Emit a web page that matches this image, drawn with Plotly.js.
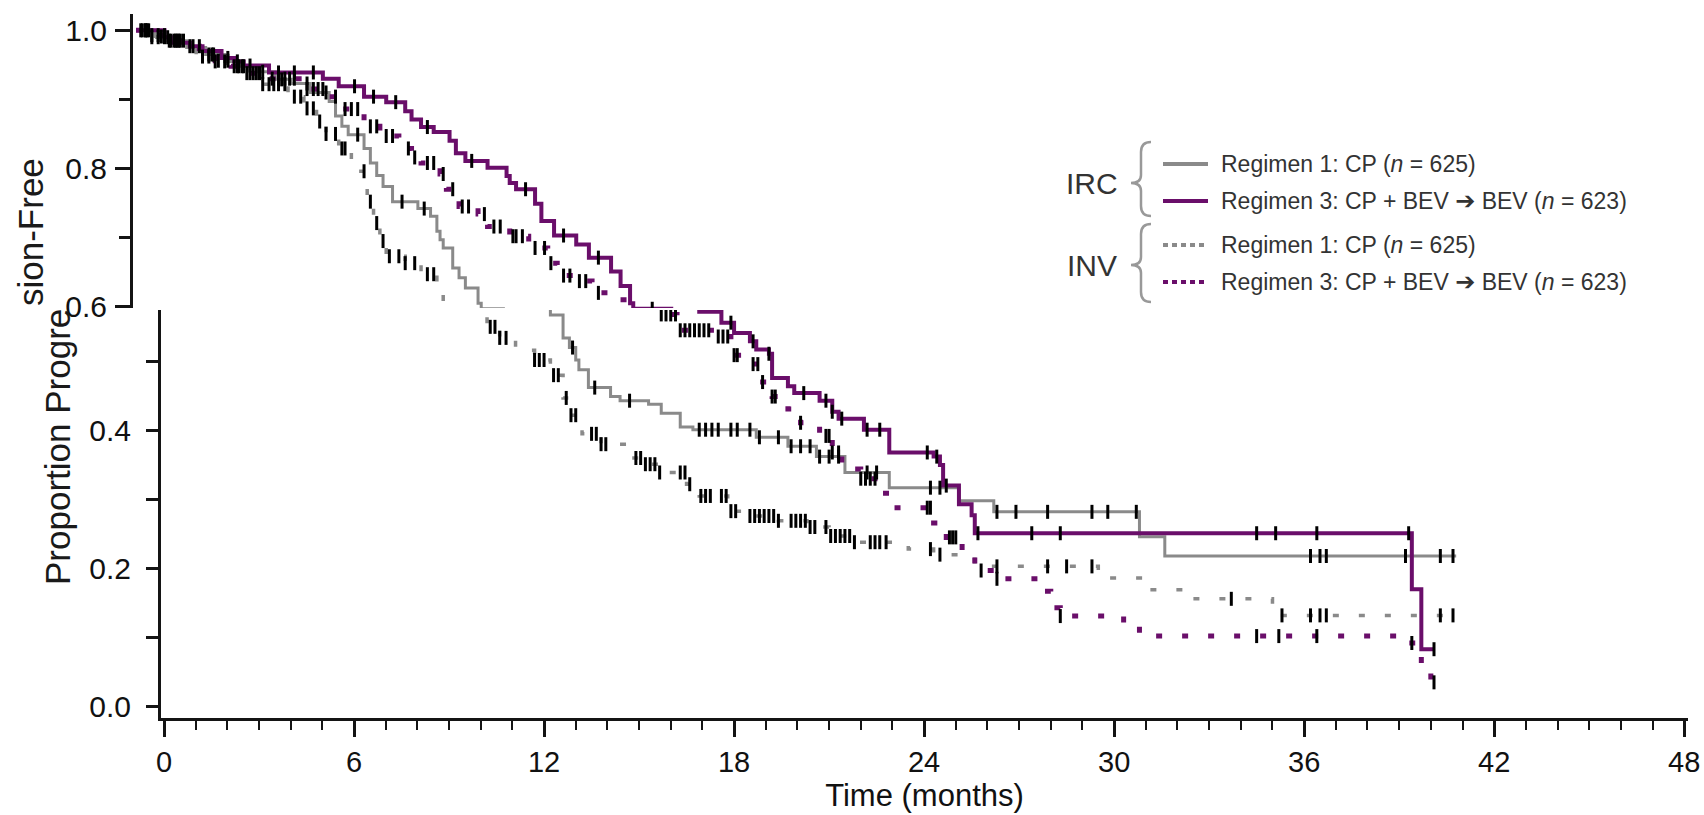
<!DOCTYPE html>
<html>
<head>
<meta charset="utf-8">
<script src="https://cdn.plot.ly/plotly-3.0.1.min.js"></script>
<style>html,body{margin:0;padding:0;background:#fff;}#chart{width:1704px;height:815px;}</style>
</head>
<body>
<div id="chart"></div>
<script>
// ---------------- data ----------------
const xTickLabels = ['0','6','12','18','24','30','36','42','48'];

// IRC, Regimen 1: CP (n = 625)  - grey solid
const ircCpT = [0, 0.6, 1.0, 1.6, 2.2, 2.8, 3.3, 3.8, 4.4, 4.9, 5.5, 6.1, 6.3, 6.5, 6.7, 7.2, 7.4, 7.6, 7.8, 8.1, 8.9, 9.3, 9.5, 9.6, 9.7, 10.0, 10.2, 10.4, 10.8, 10.9, 11.6, 12.2, 12.6, 12.8, 13.0, 13.1, 13.4, 14.1, 14.4, 15.3, 15.7, 16.3, 16.7, 18.7, 19.7, 20.6, 21.5, 22.9, 25.1, 26.2, 30.8, 31.6, 40.8];
const ircCpS = [1.0, 0.991, 0.985, 0.975, 0.965, 0.955, 0.948, 0.940, 0.929, 0.923, 0.910, 0.897, 0.876, 0.861, 0.849, 0.829, 0.808, 0.790, 0.774, 0.752, 0.742, 0.731, 0.709, 0.697, 0.685, 0.656, 0.642, 0.627, 0.605, 0.597, 0.585, 0.567, 0.534, 0.520, 0.502, 0.488, 0.462, 0.449, 0.443, 0.438, 0.425, 0.405, 0.401, 0.390, 0.377, 0.362, 0.339, 0.317, 0.298, 0.282, 0.246, 0.218, 0.218];
const ircCpCens = [0.3, 0.8, 1.3, 2.4, 3.2, 4.0, 4.6, 5.4, 6.0, 7.0, 8.4, 9.1, 12.9, 13.6, 14.7, 16.9, 17.1, 17.3, 17.5, 17.9, 18.1, 18.5, 18.8, 19.4, 19.8, 20.1, 20.4, 20.7, 21.0, 21.3, 22.2, 22.5, 24.2, 24.5, 26.3, 26.9, 27.9, 29.3, 29.8, 30.7, 36.2, 36.5, 36.7, 39.2, 40.3, 40.7];

// IRC, Regimen 3: CP + BEV -> BEV (n = 623)  - purple solid
const ircR3T = [0, 0.9, 1.1, 1.7, 2.1, 2.7, 3.1, 3.4, 4.2, 5.9, 6.4, 7.2, 7.9, 8.5, 8.7, 9.0, 9.4, 9.9, 10.1, 10.4, 11.1, 11.7, 11.8, 12.0, 12.6, 12.8, 13.2, 13.9, 14.3, 15.0, 15.3, 15.6, 15.7, 16.9, 17.6, 18.0, 18.5, 18.7, 19.1, 19.2, 19.7, 19.9, 20.7, 21.1, 21.3, 22.1, 22.9, 24.3, 24.5, 24.6, 25.1, 25.5, 25.6, 39.4, 39.7, 40.1];
const ircR3S = [1.0, 0.990, 0.982, 0.977, 0.970, 0.960, 0.955, 0.949, 0.939, 0.930, 0.919, 0.904, 0.896, 0.883, 0.871, 0.860, 0.853, 0.840, 0.822, 0.811, 0.801, 0.789, 0.779, 0.770, 0.749, 0.724, 0.703, 0.690, 0.671, 0.651, 0.630, 0.605, 0.597, 0.572, 0.556, 0.541, 0.529, 0.517, 0.511, 0.476, 0.464, 0.454, 0.443, 0.427, 0.417, 0.401, 0.368, 0.362, 0.350, 0.320, 0.293, 0.277, 0.251, 0.170, 0.083, 0.083];
const ircR3Cens = [0.4, 1.0, 2.0, 2.9, 3.6, 4.5, 5.0, 5.6, 6.9, 7.5, 8.2, 9.2, 10.6, 12.3, 13.5, 14.6, 16.3, 17.9, 18.6, 19.1, 20.2, 20.9, 21.1, 21.4, 22.2, 22.6, 24.1, 24.4, 24.7, 25.7, 27.4, 28.3, 34.5, 35.1, 36.4, 39.3, 40.1];

// INV, Regimen 1: CP (n = 625)  - grey dotted
const invCpT = [0, 0.5, 1.0, 1.5, 1.9, 2.5, 3.0, 3.5, 3.9, 4.8, 5.3, 5.7, 6.0, 6.4, 6.8, 7.1, 7.3, 7.5, 7.7, 7.9, 8.5, 9.0, 9.5, 9.7, 10.0, 10.2, 10.6, 11.1, 11.7, 12.2, 12.6, 12.8, 13.2, 13.8, 14.6, 15.1, 15.6, 16.5, 16.9, 17.8, 18.3, 19.4, 20.3, 21.0, 21.7, 23.5, 24.3, 25.6, 29.5, 31.0, 32.5, 35.0, 40.8];
const invCpS = [1.0, 0.99, 0.985, 0.977, 0.962, 0.955, 0.948, 0.938, 0.922, 0.904, 0.887, 0.868, 0.850, 0.829, 0.812, 0.796, 0.752, 0.721, 0.695, 0.673, 0.663, 0.647, 0.620, 0.598, 0.567, 0.550, 0.534, 0.516, 0.502, 0.480, 0.447, 0.422, 0.395, 0.380, 0.360, 0.351, 0.339, 0.322, 0.305, 0.283, 0.276, 0.269, 0.260, 0.247, 0.238, 0.228, 0.220, 0.203, 0.186, 0.169, 0.156, 0.132, 0.132];
const invCpCens = [0.2, 0.35, 0.5, 0.7, 0.9, 1.1, 1.25, 1.4, 1.7, 2.1, 2.3, 2.5, 2.8, 3.1, 3.25, 3.4, 3.6, 3.8, 4.0, 4.2, 4.35, 4.5, 4.7, 5.0, 5.2, 5.4, 5.6, 5.8, 6.0, 6.3, 6.5, 6.6, 7.2, 7.4, 7.6, 7.8, 8.0, 8.3, 8.5, 8.8, 9.2, 9.4,
  10.3, 10.45, 10.6, 10.8, 11.7, 11.85, 12.0, 12.3, 12.45, 12.7, 12.85, 13.0, 13.5, 13.65, 13.8, 13.95, 14.9, 15.05, 15.2, 15.35, 15.5, 15.65,
  16.3, 16.45, 16.6, 16.95, 17.1, 17.25, 17.6, 17.75, 17.9, 18.05, 18.5, 18.65, 18.8, 18.95, 19.1, 19.25, 19.4, 19.8, 19.95, 20.1, 20.25, 20.4, 20.55,
  20.9, 21.05, 21.2, 21.35, 21.5, 21.65, 21.8, 22.3, 22.45, 22.6, 22.8, 24.2, 24.5, 26.3, 27.9, 28.5, 29.3, 33.7, 35.3, 36.2, 36.5, 36.7, 40.3, 40.7];

// INV, Regimen 3: CP + BEV -> BEV (n = 623)  - purple dotted
const invR3T = [0, 0.5, 1.0, 1.6, 2.0, 2.5, 3.0, 3.5, 4.1, 5.3, 6.1, 6.5, 7.2, 7.7, 8.3, 8.5, 8.7, 9.0, 9.6, 9.8, 10.2, 10.8, 11.1, 11.8, 12.4, 13.0, 13.3, 13.8, 14.4, 14.9, 15.5, 15.6, 16.2, 17.4, 17.9, 18.4, 18.8, 19.2, 19.7, 20.1, 20.7, 21.1, 21.4, 22.0, 22.6, 23.0, 24.3, 24.7, 25.2, 25.6, 26.3, 27.6, 28.0, 28.3, 30.3, 30.8, 39.4, 39.7, 40.0, 40.1];
const invR3S = [1.0, 0.993, 0.985, 0.977, 0.965, 0.956, 0.948, 0.938, 0.930, 0.915, 0.904, 0.886, 0.861, 0.847, 0.842, 0.829, 0.816, 0.808, 0.792, 0.770, 0.745, 0.734, 0.716, 0.702, 0.685, 0.663, 0.645, 0.637, 0.620, 0.610, 0.595, 0.568, 0.545, 0.536, 0.509, 0.496, 0.470, 0.449, 0.431, 0.411, 0.392, 0.368, 0.344, 0.330, 0.309, 0.288, 0.266, 0.245, 0.223, 0.197, 0.185, 0.167, 0.143, 0.131, 0.121, 0.102, 0.092, 0.062, 0.035, 0.035];
const invR3Cens = [0.15, 0.3, 0.5, 0.7, 0.9, 1.05, 1.2, 1.35, 1.5, 1.8, 2.3, 2.45, 2.6, 2.9, 3.2, 3.35, 3.5, 3.7, 3.9, 4.3, 4.5, 4.7, 4.85, 5.0, 5.4, 5.6, 5.75, 5.9, 6.3, 6.6, 6.8, 7.0, 7.4, 7.6, 7.9, 8.1, 8.6, 8.8, 9.2, 9.4, 9.7, 10.0, 10.3, 10.5, 11.0, 11.3, 11.5, 11.9, 12.0, 12.2, 12.6, 12.9, 13.1, 13.5, 13.7, 14.0, 14.2, 14.6,
  15.7, 15.85, 16.0, 16.15, 16.3, 16.45, 16.6, 16.75, 16.9, 17.05, 17.2, 17.5, 17.65, 17.8, 18.0, 18.1, 18.6, 18.75, 18.9, 19.2, 19.3, 20.1, 20.9, 21.0, 21.1, 21.3,
  22.0, 22.15, 22.3, 22.45, 24.1, 24.2, 24.8, 24.9, 25.0, 25.8, 26.3, 28.3, 34.5, 35.2, 36.4, 39.4, 40.1];

const ARROW = '<span style="font-family:DejaVu Sans;font-size:24px;font-weight:bold">\u2794</span>';
const legendLabels = [
  'Regimen 1: CP (<i>n</i> = 625)',
  'Regimen 3: CP + BEV ' + ARROW + ' BEV (<i>n</i> = 623)',
  'Regimen 1: CP (<i>n</i> = 625)',
  'Regimen 3: CP + BEV ' + ARROW + ' BEV (<i>n</i> = 623)'
];
const groupLabels = ['IRC', 'INV'];
const yTitle = 'Proportion Progression-Free';
const xTitle = 'Time (months)';

// ---------------- styling ----------------
const FONT = 'Liberation Sans, Arial, sans-serif';
const GREY = '#8a8a8a', PURPLE = '#6a0e6a', INK = '#141414';
const W = 1704, H = 815, ML = 133, MR = 16, MT = 14, MB = 97;
const PW = W - ML - MR, PH = H - MT - MB;
const px = X => (X - ML) / PW;
const py = Y => (H - MB - Y) / PH;

function stepValue(T, S, c) {
  let v = S[0];
  for (let i = 0; i < T.length; i++) { if (T[i] <= c) v = S[i]; else break; }
  return v;
}

const curves = [
  {T: ircCpT, S: ircCpS, C: ircCpCens, color: GREY, width: 3, dash: 'solid'},
  {T: ircR3T, S: ircR3S, C: ircR3Cens, color: PURPLE, width: 4, dash: 'solid'},
  {T: invCpT, S: invCpS, C: invCpCens, color: GREY, width: 3.5, dash: '6px,20px'},
  {T: invR3T, S: invR3S, C: invR3Cens, color: PURPLE, width: 5, dash: '6px,20px'}
];

const traces = [];
[['x', 'y'], ['x2', 'y2']].forEach(([xa, ya]) => {
  curves.forEach(c => {
    traces.push({type: 'scatter', mode: 'lines', x: c.T, y: c.S, xaxis: xa, yaxis: ya,
      line: {shape: 'hv', color: c.color, width: c.width, dash: c.dash}, hoverinfo: 'skip', showlegend: false});
  });
  curves.forEach(c => {
    traces.push({type: 'scatter', mode: 'markers', x: c.C, y: c.C.map(t => stepValue(c.T, c.S, t)), xaxis: xa, yaxis: ya,
      marker: {symbol: 'line-ns-open', size: 10, color: '#000', line: {color: '#000', width: 3}}, hoverinfo: 'skip', showlegend: false});
  });
});

const yCommon = {
  showline: true, linewidth: 3, linecolor: INK, ticks: 'outside', tickwidth: 3, tickcolor: INK,
  tickmode: 'linear', tick0: 0, dtick: 0.2, tickformat: '.1f', showgrid: false, zeroline: false,
  tickfont: {family: FONT, size: 30, color: '#111'}
};

const layout = {
  width: W, height: H, margin: {l: ML, r: MR, t: MT, b: MB, autoexpand: false},
  paper_bgcolor: '#fff', plot_bgcolor: 'rgba(0,0,0,0)', showlegend: false,
  font: {family: FONT, color: '#111'},
  xaxis: {
    domain: [px(161), px(1688)], range: [-0.095, 48.12], anchor: 'y',
    showline: true, linewidth: 3, linecolor: INK, ticks: 'outside', ticklen: 16, tickwidth: 3, tickcolor: INK,
    tickmode: 'array', tickvals: xTickLabels.map(Number), ticktext: xTickLabels,
    minor: {ticks: 'outside', ticklen: 9, tickwidth: 2, tickcolor: INK, dtick: 1, tick0: 0, showgrid: false},
    tickfont: {family: FONT, size: 29, color: '#111'}, ticklabelstandoff: 0,
    showgrid: false, zeroline: false,
    title: {text: xTitle, font: {family: FONT, size: 31, color: '#111'}, standoff: 6}
  },
  yaxis: Object.assign({}, yCommon, {
    domain: [py(718), py(310)], range: [-0.01666, 0.5744], anchor: 'x', ticklen: 12, ticklabelstandoff: 9,
    minor: {ticks: 'outside', ticklen: 12, tickwidth: 3, tickcolor: INK, dtick: 0.1, tick0: 0, showgrid: false}
  }),
  xaxis2: {domain: [px(133), px(1660)], range: [-0.095, 48.12], anchor: 'y2', visible: false},
  yaxis2: Object.assign({}, yCommon, {
    domain: [py(308), py(14)], range: [0.5981, 1.0236], anchor: 'x2', ticklen: 15, ticklabelstandoff: 2,
    minor: {ticks: 'outside', ticklen: 11, tickwidth: 3, tickcolor: INK, dtick: 0.1, tick0: 0, showgrid: false}
  }),
  annotations: [],
  shapes: []
};

// y-axis title, split where the picture is cut
layout.annotations.push({xref: 'paper', yref: 'paper', x: px(57), y: py(587), xanchor: 'center', yanchor: 'bottom',
  text: yTitle.slice(0, 17), textangle: -90, showarrow: false, font: {family: FONT, size: 35, color: '#1a1a1a'}});
layout.annotations.push({xref: 'paper', yref: 'paper', x: px(30), y: py(308), xanchor: 'center', yanchor: 'bottom',
  text: yTitle.slice(18), textangle: -90, showarrow: false, font: {family: FONT, size: 35, color: '#1a1a1a'}});

// legend
const legY = [164, 201, 245, 282];
const legStyle = [
  {color: GREY, width: 4, dash: 'solid'}, {color: PURPLE, width: 4, dash: 'solid'},
  {color: GREY, width: 4, dash: '5px,4px'}, {color: PURPLE, width: 4, dash: '5px,4px'}
];
legY.forEach((Y, i) => {
  layout.shapes.push({type: 'line', xref: 'paper', yref: 'paper', x0: px(1163), x1: px(1208), y0: py(Y), y1: py(Y), line: legStyle[i]});
  layout.annotations.push({xref: 'paper', yref: 'paper', x: px(1219), y: py(Y), xanchor: 'left', yanchor: 'middle',
    text: legendLabels[i], showarrow: false, font: {family: FONT, size: 23, color: '#333'}});
});
[[183, 142, 216], [265, 224, 302]].forEach(([mid, top, bot], i) => {
  layout.annotations.push({xref: 'paper', yref: 'paper', x: px(1092), y: py(mid), xanchor: 'center', yanchor: 'middle',
    text: groupLabels[i], showarrow: false, font: {family: FONT, size: 30, color: '#333'}});
  const P = (X, Y) => px(X).toFixed(5) + ',' + py(Y).toFixed(5);
  const path = 'M' + P(1151, top) + ' Q' + P(1141, top) + ' ' + P(1141, top + 10) +
    ' L' + P(1141, mid - 8) + ' Q' + P(1141, mid) + ' ' + P(1131, mid) +
    ' Q' + P(1141, mid) + ' ' + P(1141, mid + 8) +
    ' L' + P(1141, bot - 10) + ' Q' + P(1141, bot) + ' ' + P(1151, bot);
  layout.shapes.push({type: 'path', xref: 'paper', yref: 'paper', path: path, line: {color: '#999', width: 2.5}});
});

Plotly.newPlot('chart', traces, layout, {staticPlot: true, displayModeBar: false});
</script>
</body>
</html>
